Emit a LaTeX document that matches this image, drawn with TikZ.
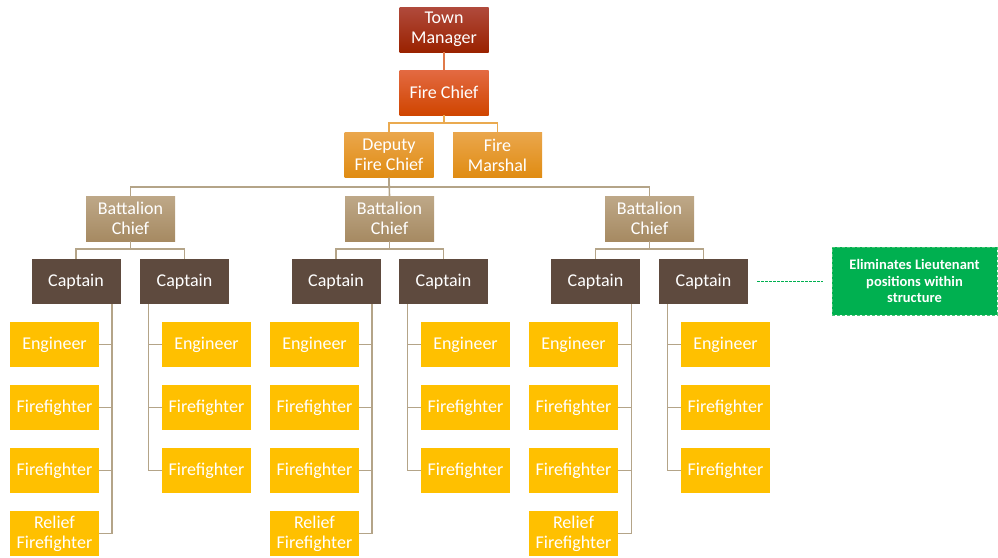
\documentclass[tikz,border=0pt]{standalone}
\usepackage{fontspec}
\setmainfont{Carlito}
\definecolor{tmtop}{HTML}{B04A3C}
\definecolor{tmbot}{HTML}{9A2200}
\definecolor{fctop}{HTML}{E36A42}
\definecolor{fcbot}{HTML}{D04500}
\definecolor{dtop}{HTML}{EAA64C}
\definecolor{dbot}{HTML}{E08C12}
\definecolor{bctop}{HTML}{BEA888}
\definecolor{bcbot}{HTML}{A68A62}
\definecolor{capc}{HTML}{5E4A3E}
\definecolor{gold}{HTML}{FFC000}
\definecolor{tan}{HTML}{B4A488}
\definecolor{orline}{HTML}{E07A4A}
\definecolor{ybline}{HTML}{EAAA50}
\definecolor{notegreen}{HTML}{00B050}
\definecolor{notedash}{HTML}{4CC878}
\tikzset{
  box/.style={minimum width=89pt, minimum height=45pt, inner sep=0pt, text=white, align=center, font=\fontsize{18}{20}\selectfont},
  tmbox/.style={box, top color=tmtop, bottom color=tmbot},
  fcbox/.style={box, top color=fctop, bottom color=fcbot},
  dbox/.style={box, top color=dtop, bottom color=dbot},
  bcbox/.style={box, top color=bctop, bottom color=bcbot},
  capbox/.style={box, fill=capc},
  crew/.style={box, fill=gold},
  link/.style={draw=tan, line width=1.6pt},
  notebox/.style={fill=notegreen, draw=notedash, densely dashed, line width=0.8pt, minimum width=165pt, minimum height=68pt, inner sep=0pt, text=white, align=center, font=\bfseries\fontsize{14.5}{16.5}\selectfont},
}
\begin{document}
\begin{tikzpicture}[x=1pt,y=-1pt]
\useasboundingbox (0,0) rectangle (998,557);
% top
\node[tmbox] (tm) at (444,29.5) {Town\\Manager};
\node[fcbox] (fc) at (444,92.5) {Fire Chief};
\node[dbox] (dfc) at (389,155) {Deputy\\Fire Chief};
\node[dbox] (fm) at (497.5,155) {Fire\\Marshal};
% battalion chiefs
\node[bcbox] (bc1) at (130.5,218.5) {Battalion\\Chief};
\node[bcbox] (bc2) at (389.5,218.5) {Battalion\\Chief};
\node[bcbox] (bc3) at (649.5,218.5) {Battalion\\Chief};
% captains
\node[capbox] (cap1) at (76,281.5) {Captain};
\node[capbox] (cap2) at (184.5,281.5) {Captain};
\node[capbox] (cap3) at (336,281.5) {Captain};
\node[capbox] (cap4) at (443.5,281.5) {Captain};
\node[capbox] (cap5) at (595.5,281.5) {Captain};
\node[capbox] (cap6) at (703.5,281.5) {Captain};
% crews
\foreach \n/\x in {a/54.5, c/314.5, e/573.5}{
  \node[crew] (\n1) at (\x,344.5) {Engineer};
  \node[crew] (\n2) at (\x,407.5) {Firefighter};
  \node[crew] (\n3) at (\x,470.5) {Firefighter};
  \node[crew] (\n4) at (\x,533.5) {Relief\\Firefighter};
}
\foreach \n/\x in {b/206.5, d/465.5, f/725.5}{
  \node[crew] (\n1) at (\x,344.5) {Engineer};
  \node[crew] (\n2) at (\x,407.5) {Firefighter};
  \node[crew] (\n3) at (\x,470.5) {Firefighter};
}
% note
\node[notebox] (note) at (914.5,281) {Eliminates Lieutenant\\positions within\\structure};
% connectors
\draw[draw=orline, line width=1.6pt] (tm) -- (fc);
\draw[draw=ybline, line width=1.6pt] (fc.south) -- ++(0,8) -| (dfc.north);
\draw[draw=ybline, line width=1.6pt] (fc.south) -- ++(0,8) -| (fm.north);
\draw[link] (dfc.south) -- ++(0,9) -| (bc1.north);
\draw[link] (dfc.south) -- ++(0,9) -| (bc3.north);
\draw[link] (dfc.south) -- (bc2.north);
\foreach \b/\l/\r in {bc1/cap1/cap2, bc2/cap3/cap4, bc3/cap5/cap6}{
  \draw[link] (\b.south) -- ++(0,8) -| (\l.north);
  \draw[link] (\b.south) -- ++(0,8) -| (\r.north);
}
\foreach \c/\n in {cap1/a, cap3/c, cap5/e}{
  \foreach \i in {1,2,3,4}{
    \draw[link] ([xshift=36pt]\c.south) |- (\n\i.east);
  }
}
\foreach \c/\n in {cap2/b, cap4/d, cap6/f}{
  \foreach \i in {1,2,3}{
    \draw[link] ([xshift=-36pt]\c.south) |- (\n\i.west);
  }
}
\draw[draw=notegreen, dash pattern=on 3pt off 1pt, line width=1pt, shorten <=9pt, shorten >=9pt] (cap6.east) -- (cap6.east -| note.west);
\end{tikzpicture}
\end{document}
